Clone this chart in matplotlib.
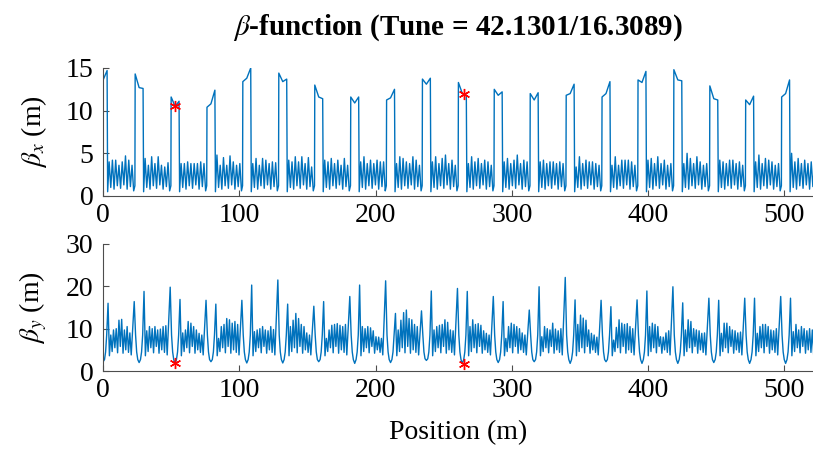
import matplotlib.pyplot as plt
import numpy as np

plt.rcParams['font.family'] = ['Liberation Serif', 'DejaVu Serif']
plt.rcParams['mathtext.fontset'] = 'stix'

# start of each lattice cell (m), read from the plateaus of beta_x
cell_start = [-2.9, 23.5, 49.9, 76.2, 102.5, 128.9, 155.3, 181.7, 208.0, 234.3,
              260.7, 287.0, 313.4, 339.8, 366.1, 392.5, 418.8, 445.2, 471.5, 497.9]

# beta_x plateau values (entry, middle, exit) per cell
bx_in = [13.4, 14.3, 11.6, 10.4, 13.4, 14.4, 13.0, 11.6, 11.25, 13.7,
         13.3, 12.5, 12.0, 11.8, 11.6, 13.6, 14.8, 12.9, 11.25, 11.6]
bx_mid = [13.6, 12.7, 10.5, 10.8, 13.8, 13.4, 11.6, 10.9, 11.5, 13.1,
          12.0, 11.8, 11.25, 12.0, 12.0, 13.3, 13.6, 11.4, 10.7, 12.0]
bx_out = [14.7, 12.6, 11.1, 12.4, 15.0, 13.7, 11.4, 11.6, 12.5, 13.8,
          11.8, 12.2, 12.1, 13.1, 13.4, 14.6, 13.5, 11.25, 11.7, 13.6]

# beta_x small peaks between plateaus
bx_gap_peaks = [
    [4.0, 4.2, 4.2, 3.6, 4.0, 4.7, 4.2, 3.6],
    [4.4, 3.6, 4.6, 3.8, 4.6, 3.6, 3.4, 3.9],
    [3.8, 3.8, 4.0, 3.8, 3.8, 3.8, 4.0, 3.8],
    [4.8, 3.6, 4.5, 3.6, 4.7, 4.0, 3.6, 3.8],
    [3.8, 4.4, 3.6, 4.4, 4.2, 3.8, 4.0, 3.9],
    [4.2, 4.0, 4.6, 4.0, 4.6, 3.8, 4.5, 3.4],
    [4.2, 4.0, 4.4, 3.8, 4.2, 3.6, 4.4, 3.6],
    [4.0, 4.6, 3.8, 4.2, 3.8, 4.2, 4.0, 4.0],
    [3.8, 4.6, 4.4, 4.0, 3.8, 4.6, 4.2, 3.6],
    [4.0, 4.6, 3.8, 4.4, 4.8, 3.8, 4.2, 3.6],
    [3.8, 4.6, 4.0, 4.4, 3.8, 4.2, 4.0, 3.6],
    [4.0, 4.4, 3.8, 4.2, 4.8, 3.8, 4.2, 4.0],
    [4.0, 4.2, 3.8, 4.0, 4.0, 3.8, 4.0, 3.8],
    [3.4, 4.6, 3.8, 4.2, 4.0, 4.0, 3.8, 3.6],
    [3.6, 4.6, 3.6, 4.2, 4.2, 4.2, 4.0, 3.6],
    [4.2, 4.4, 3.8, 4.6, 3.8, 4.2, 3.6, 3.8],
    [3.8, 5.0, 4.4, 3.8, 4.6, 4.0, 3.6, 3.8],
    [4.2, 4.0, 3.8, 4.2, 4.2, 3.8, 4.0, 3.6],
    [4.0, 4.8, 3.8, 4.4, 4.2, 4.0, 3.6, 3.8],
    [5.0, 4.0, 4.4, 3.8, 4.2, 3.8, 4.0, 3.8],
]
bx_gap_valleys = [0.5, 1.0, 0.8, 1.2, 0.9, 1.3, 0.8, 1.1, 0.6]
bx_peak_off = [7.4, 9.8, 12.2, 14.6, 17.0, 19.4, 21.8, 24.2]
bx_valley_off = [6.3, 8.6, 11.0, 13.4, 15.8, 18.2, 20.6, 23.0, 25.4]

# beta_y: flanking peaks and deep valley at each beta_x plateau
by_in = [16.0, 16.4, 19.8, 16.7, 16.7, 21.5, 15.3, 17.6, 21.3, 14.2,
         19.5, 17.6, 14.4, 22.1, 16.7, 16.8, 19.9, 17.2, 17.2, 17.6]
by_min = [2.2, 2.0, 1.8, 2.2, 1.9, 1.9, 2.2, 1.8, 2.0, 2.5,
          1.8, 2.0, 2.2, 1.8, 2.2, 1.8, 1.8, 2.0, 1.8, 1.8]
by_out = [16.0, 18.8, 16.9, 15.8, 20.3, 15.8, 16.4, 20.3, 13.6, 18.9,
          18.8, 16.4, 19.9, 16.8, 15.2, 18.9, 16.1, 16.7, 17.2, 17.2]
by_gap_peaks = [
    [8.5, 9.7, 10.0, 12.0, 12.2, 9.7, 10.5, 9.0],
    [9.5, 10.5, 10.0, 10.5, 9.7, 9.9, 10.5, 10.7],
    [9.0, 9.7, 11.7, 11.3, 10.5, 9.7, 8.9, 8.5],
    [7.7, 10.5, 11.0, 12.4, 12.1, 11.3, 11.7, 11.0],
    [9.3, 9.7, 10.0, 10.5, 9.7, 9.5, 10.5, 9.8],
    [10.5, 12.0, 13.6, 12.4, 11.0, 10.5, 9.0, 8.5],
    [7.7, 9.7, 10.8, 11.0, 11.2, 10.8, 10.5, 11.0],
    [10.5, 10.0, 10.5, 10.2, 9.5, 8.1, 8.0, 7.7],
    [9.7, 12.0, 13.8, 14.4, 12.4, 12.1, 11.0, 10.5],
    [9.7, 10.5, 10.8, 11.0, 12.1, 11.5, 9.7, 9.5],
    [10.5, 12.1, 11.0, 11.2, 10.8, 9.5, 8.9, 8.5],
    [7.7, 10.5, 11.3, 11.0, 10.5, 10.0, 9.0, 8.5],
    [8.1, 10.5, 10.0, 9.7, 11.3, 9.9, 9.5, 10.0],
    [11.0, 13.2, 12.5, 12.0, 9.7, 8.9, 8.5, 8.0],
    [7.3, 10.3, 12.1, 11.3, 11.0, 11.2, 10.5, 10.0],
    [10.5, 11.3, 11.0, 10.5, 8.1, 8.0, 9.0, 9.5],
    [9.7, 12.1, 11.7, 10.0, 9.7, 9.5, 8.9, 9.0],
    [8.9, 11.3, 11.3, 10.5, 9.7, 9.5, 9.0, 9.2],
    [8.9, 10.5, 11.0, 11.0, 10.5, 9.7, 9.5, 10.0],
    [9.3, 11.0, 9.7, 10.5, 10.0, 9.5, 10.0, 9.7],
]
by_gap_valleys = [3.6, 4.6, 5.5, 4.3, 5.8, 4.2, 5.0, 4.4, 3.8]
by_u_off = [0.4, 1.2, 2.0, 4.0, 4.8, 5.6]
by_u_val = [8.5, 4.5, 2.7, 2.7, 4.5, 8.5]
by_peak_off = [8.6, 10.6, 12.6, 14.6, 16.6, 18.6, 20.6, 22.6]
by_valley_off = [7.6, 9.6, 11.6, 13.6, 15.6, 17.6, 19.6, 21.6, 23.6]

# marked positions
mark_s = [52.5, 265.0]
mark_bx = [10.5, 12.0]
mark_by = [1.8, 1.6]

# assemble the traces cell by cell
sx, bx = [], []
sy, by = [], []
for k, s0 in enumerate(cell_start):
    pts = [(s0 - 0.1, 1.2), (s0 + 0.1, bx_in[k]), (s0 + 3.0, bx_mid[k]),
           (s0 + 5.9, bx_out[k])]
    pts += [(s0 + o, v) for o, v in zip(bx_valley_off, bx_gap_valleys)]
    pts += [(s0 + o, v) for o, v in zip(bx_peak_off, bx_gap_peaks[k])]
    pts.sort()
    sx += [p[0] for p in pts]
    bx += [p[1] for p in pts]

    pts = [(s0 - 0.6, by_in[k]), (s0 + 3.0, by_min[k]), (s0 + 6.6, by_out[k])]
    pts += [(s0 + o, max(v, by_min[k] + 0.4)) for o, v in zip(by_u_off, by_u_val)]
    pts += [(s0 + o, v) for o, v in zip(by_valley_off, by_gap_valleys)]
    pts += [(s0 + o, v) for o, v in zip(by_peak_off, by_gap_peaks[k])]
    pts.sort()
    sy += [p[0] for p in pts]
    by += [p[1] for p in pts]

fig = plt.figure(figsize=(8.13, 4.49), dpi=100)
ax1 = fig.add_axes([0.1267, 0.5635, 0.8733, 0.2851])
ax2 = fig.add_axes([0.1267, 0.1737, 0.8733, 0.2829])

blue = '#0072BD'
asterisk = (6, 2, 0)
ax1.plot(sx, bx, color=blue, lw=1.0)
ax1.plot(mark_s, mark_bx, marker=asterisk, color='red', ms=8, mew=1.0, ls='none')
ax2.plot(sy, by, color=blue, lw=1.0)
ax2.plot(mark_s, mark_by, marker=asterisk, color='red', ms=8, mew=1.0, ls='none')

ax1.set_ylim(0, 15)
ax1.set_yticks([0, 5, 10, 15])
ax2.set_ylim(0, 30)
ax2.set_yticks([0, 10, 20, 30])

for ax in (ax1, ax2):
    ax.set_xlim(0, 521)
    ax.set_xticks([0, 100, 200, 300, 400, 500])
    ax.spines['top'].set_visible(False)
    ax.spines['right'].set_visible(False)
    for sp in ('left', 'bottom'):
        ax.spines[sp].set_color('0.3')
        ax.spines[sp].set_linewidth(0.8)
    ax.tick_params(direction='in', length=4, width=0.8, color='0.3',
                   labelsize=20, labelcolor='black')
    ax.tick_params(axis='x', pad=5)
    ax.tick_params(axis='y', pad=7)

ax1.set_ylabel(r'$\beta_x$ (m)', fontsize=20, labelpad=12)
ax2.set_ylabel(r'$\beta_y$ (m)', fontsize=20, labelpad=12)
ax2.set_xlabel('Position (m)', fontsize=20, labelpad=12)
ax1.set_title(r'$\beta$-function (Tune = 42.1301/16.3089)', fontsize=21,
              fontweight='bold', pad=24)

fig.savefig('out.png', dpi=100)
